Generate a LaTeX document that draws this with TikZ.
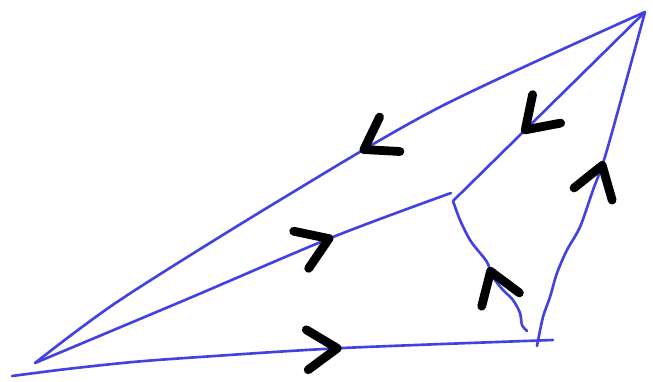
\documentclass[tikz,border=0pt]{standalone}
\usetikzlibrary{arrows.meta,decorations.markings}
\definecolor{penblue}{RGB}{66,66,226}
\begin{document}
\begin{tikzpicture}[x=0.02cm, y=-0.02cm,
  edge/.style={draw=penblue, line width=1.5pt, line cap=round, line join=round},
  flow/.style={edge, postaction={decorate, decoration={markings,
      mark=at position #1 with {\arrow{Straight Barb[length=0.6cm, width=0.8cm, line width=5pt, round, color=black]}}}}}
]
  \useasboundingbox (0,0) rectangle (653,382);

  % corners and junction
  \coordinate (A) at (35,363);
  \coordinate (A2) at (12,376);
  \coordinate (B) at (645,12);
  \coordinate (C) at (537,346);
  \coordinate (C2) at (553,340);
  \coordinate (D) at (453,201);
  \coordinate (D2) at (451,193);
  \coordinate (E) at (527,331);

  \draw[flow=0.45] plot[smooth] coordinates {(B) (440,107) (280,200) (120,300) (A)};
  \draw[flow=0.64] (B) -- (D);
  \draw[flow=0.56] plot[smooth] coordinates {(C) (543,317) (550,297) (557,273) (567,250) (580,227) (593,190) (607,150) (B)};
  \draw[flow=0.50] plot[smooth] coordinates {(E) (522,325) (520,313) (513,300) (503,290) (493,277) (487,262) (480,253) (470,240) (460,220) (D)};
  \draw[flow=0.72] plot[smooth] coordinates {(A) (185,300) (333,237) (D2)};
  \draw[flow=0.61] plot[smooth] coordinates {(A2) (67,369) (133,362) (200,357) (343,348) (C2)};
\end{tikzpicture}
\end{document}
